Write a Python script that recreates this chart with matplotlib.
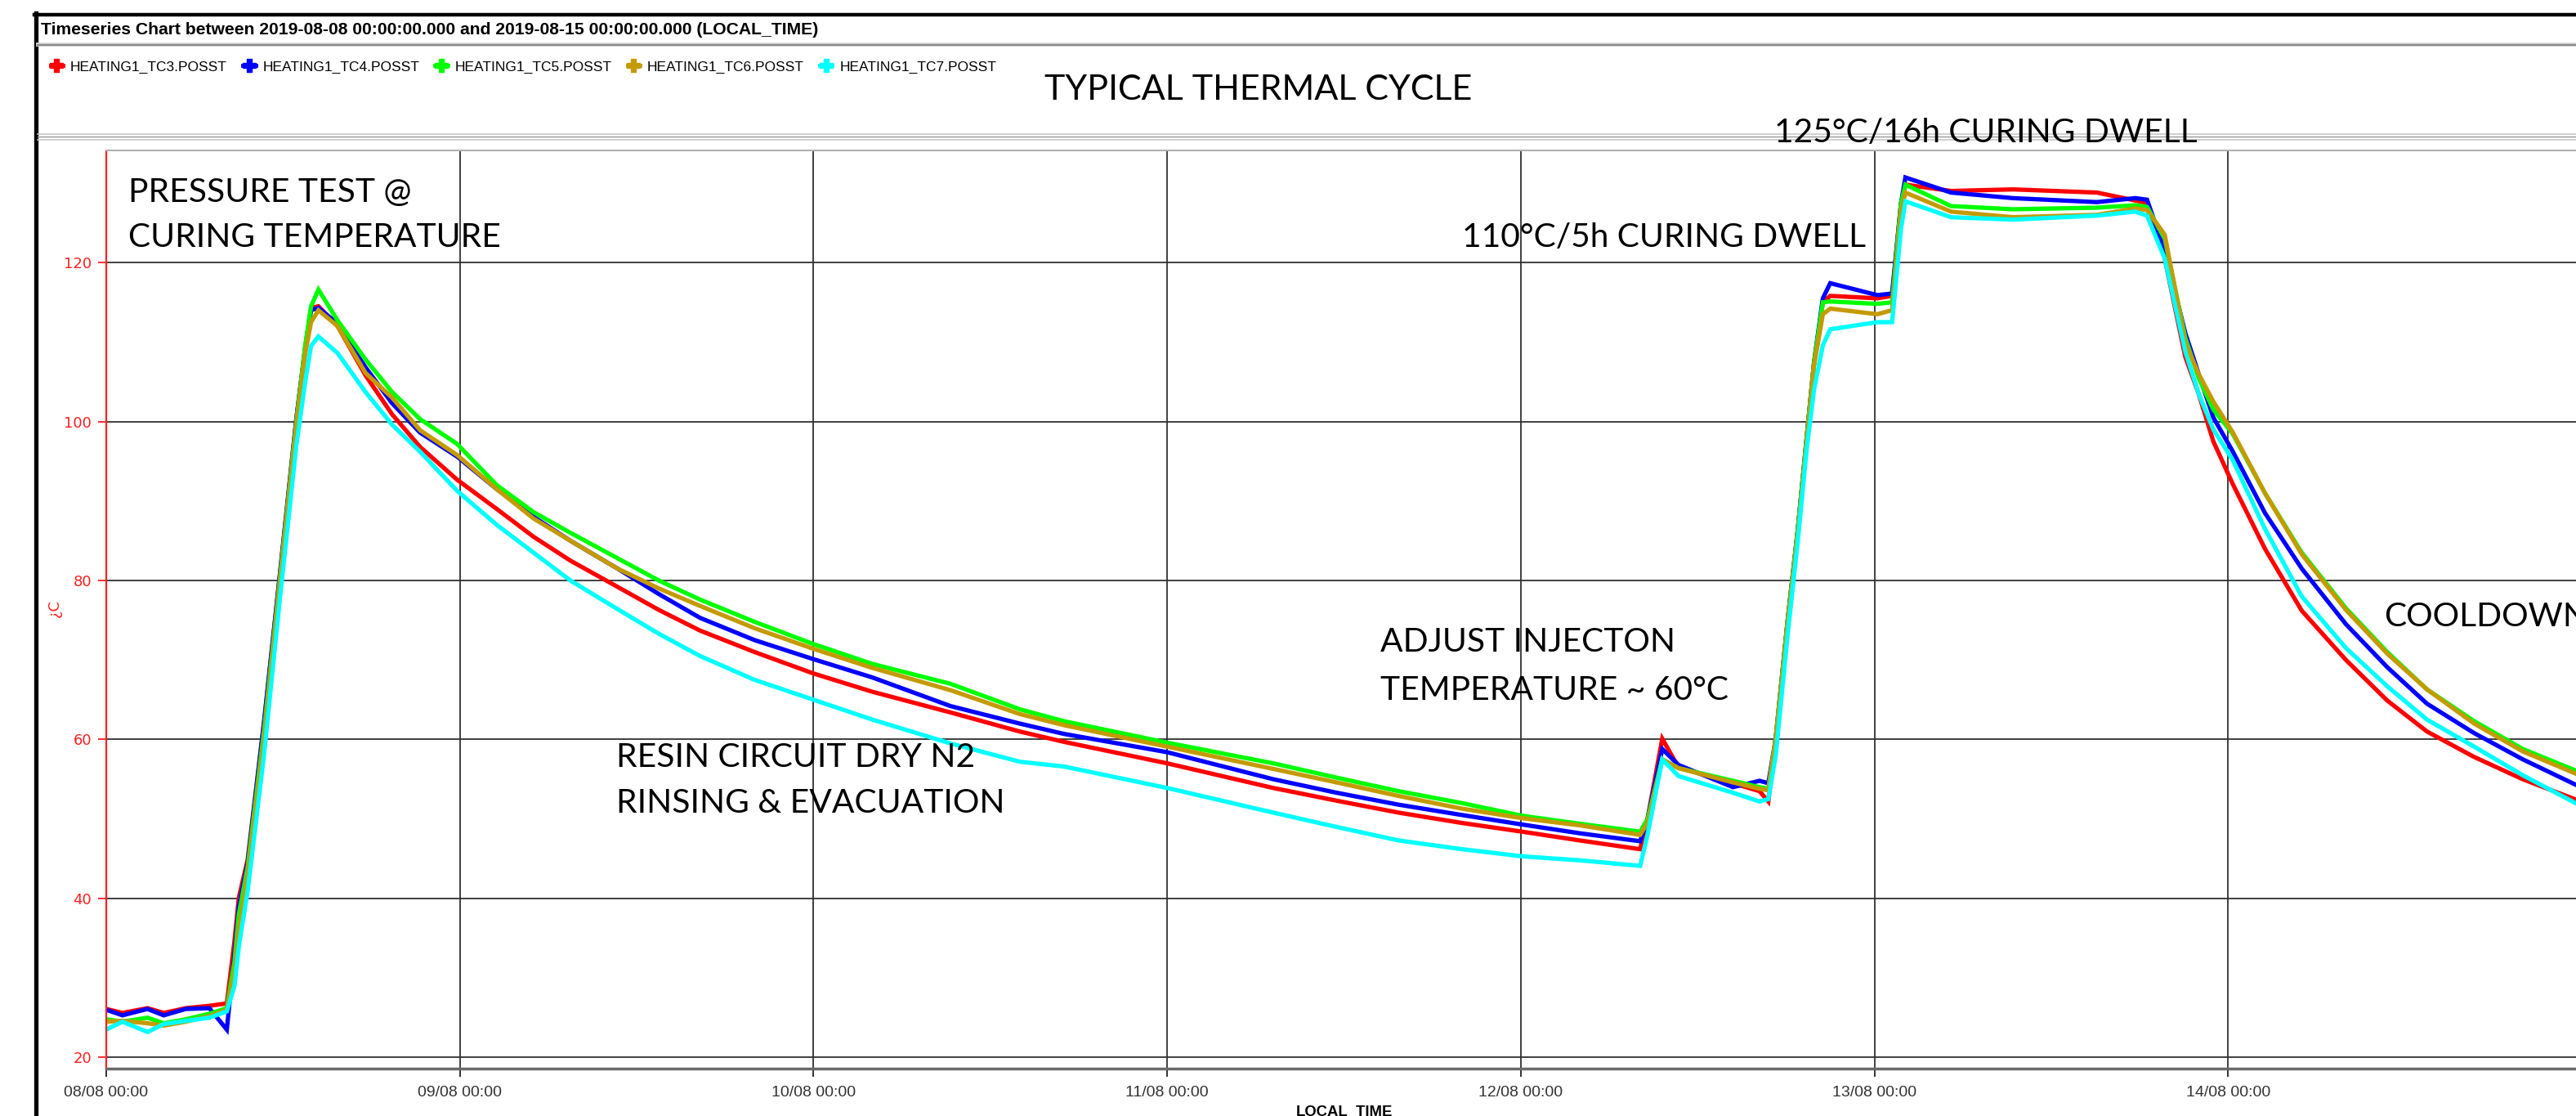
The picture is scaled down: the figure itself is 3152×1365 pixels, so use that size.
import numpy as np
import matplotlib
matplotlib.use('Agg')
import matplotlib.pyplot as plt
import matplotlib.dates as mdates
from matplotlib.lines import Line2D
from matplotlib import font_manager

# Figure size in pixels (dpi 100)
W, H = 3152, 1365

# Series names and colours
names = ['HEATING1_TC3.POSST', 'HEATING1_TC4.POSST', 'HEATING1_TC5.POSST',
         'HEATING1_TC6.POSST', 'HEATING1_TC7.POSST']
colors = ['#ff0000', '#0000ff', '#00ff00', '#c49a00', '#00ffff']

# Hours since 2019-08-08 00:00
hours = [0, 1.1, 2.8, 3.9, 5.4, 7.0, 8.2, 8.7, 9.0, 9.6, 10.7, 11.8, 12.9, 13.5, 13.9, 14.4,
         15.7, 17.6, 19.4, 21.3, 23.8, 26.5, 29, 31.5, 34.7, 37.5, 40.3, 44, 48, 52, 57.3,
         62, 65, 72, 79.2, 83.5, 87.7, 92, 96.1, 100, 104.1, 104.6, 105.6, 106.7, 110.4,
         112.2, 112.8, 113.3, 114.1, 114.8, 115.4, 115.9, 116.5, 117, 120.2, 121.2, 121.8,
         122.1, 125.2, 129.4, 135.1, 137.7, 138.5, 139.7, 141.1, 142, 143, 144.3, 146.5,
         149, 152, 154.8, 157.5, 160.7, 164, 168.5]

tc3 = [26.1, 25.6, 26.2, 25.6, 26.2, 26.5, 26.8, 34.6, 40.1, 44.9, 62, 81, 100.3, 109.2, 114.3, 114.5,
       112, 105.8, 100.9, 96.8, 92.7, 89, 85.5, 82.5, 79.2, 76.3, 73.7, 71, 68.3, 66, 63.4,
       61, 59.7, 57, 53.9, 52.3, 50.8, 49.5, 48.4, 47.3, 46.2, 50, 60.1, 56.5, 54.5,
       53.5, 52.2, 60.1, 74.8, 86.4, 97.9, 107.4, 115, 115.8, 115.5, 115.8, 127.4,
       129.8, 129, 129.2, 128.8, 127.8, 127.5, 120.5, 108.1, 103.5, 97.5, 92.2, 84,
       76.2, 70, 64.9, 61, 57.8, 55, 51.8]

tc4 = [26.0, 25.3, 26.1, 25.3, 26.1, 26.2, 23.5, 33, 39, 44.5, 62, 81, 100.3, 109.2, 114, 114.3,
       112.3, 106.8, 102.3, 98.6, 95.6, 91.5, 88, 85, 81.5, 78.3, 75.3, 72.5, 70.1, 67.8, 64.2,
       62, 60.7, 58.4, 55, 53.3, 51.8, 50.5, 49.3, 48.2, 47.2, 50, 58.8, 56.8, 54,
       54.8, 54.5, 60.1, 74.8, 86.4, 97.9, 107.4, 115.5, 117.4, 115.9, 116.1, 127.4,
       130.7, 128.8, 128.1, 127.6, 128.1, 127.9, 121.5, 111.1, 106, 100.5, 96.3, 88.5,
       81.5, 74.5, 69.1, 64.5, 60.8, 57.5, 53.5]

tc5 = [24.8, 24.5, 25, 24.3, 24.8, 25.5, 26.2, 32, 38, 44, 61, 80.5, 100, 109.5, 114.5, 116.6,
       112.7, 107.8, 103.7, 100.3, 97.2, 92, 88.6, 86, 82.8, 80, 77.6, 74.8, 72, 69.5, 67,
       63.8, 62.3, 59.6, 57, 55.2, 53.5, 52, 50.4, 49.4, 48.4, 50, 57.5, 56.4, 54.8,
       54, 53.8, 60.1, 74.8, 86.4, 97.9, 107.4, 115, 115.1, 114.8, 115, 127.4,
       129.8, 127.1, 126.7, 126.9, 127.2, 127, 123, 110.5, 105.5, 101.5, 98.5, 91,
       83.5, 76.5, 71, 66.3, 62.3, 58.8, 55.4]

tc6 = [24.5, 24.6, 24.3, 24.0, 24.5, 25.2, 26, 30.5, 36, 43, 60, 80, 99.5, 108.5, 112.5, 114,
       112, 106.1, 103, 98.9, 95.8, 91.5, 87.8, 85, 81.5, 79, 76.8, 74, 71.4, 69, 66.2,
       63.2, 61.8, 59.1, 56.3, 54.6, 52.9, 51.3, 50.1, 49.2, 48, 49.5, 57.5, 56.4, 54.6,
       53.8, 53.6, 60, 74.5, 86, 97.5, 107, 113.5, 114.2, 113.5, 114, 126.5,
       128.8, 126.4, 125.7, 126, 126.8, 126.6, 123.5, 109.9, 106, 102.5, 98.7, 91,
       83.3, 76.3, 70.8, 66.3, 62, 58.5, 55]

tc7 = [23.5, 24.5, 23.2, 24.2, 24.6, 25.0, 25.8, 29, 34, 41, 58, 78, 97, 105, 109.5, 110.7,
       108.6, 103.7, 99.6, 96.2, 91.3, 87, 83.5, 80, 76.4, 73.3, 70.5, 67.5, 65, 62.5, 59.5,
       57.2, 56.6, 53.9, 50.8, 49, 47.3, 46.2, 45.3, 44.8, 44.1, 48, 57.5, 55.4, 53.3,
       52.2, 52.5, 58, 73, 85, 96.5, 104, 109.6, 111.6, 112.5, 112.5, 124.2,
       127.7, 125.7, 125.4, 125.9, 126.4, 125.9, 120.5, 108.8, 103.5, 99, 95.2, 86.5,
       78, 71.5, 66.7, 62.5, 59.1, 55.5, 51.1]

series = [tc3, tc4, tc5, tc6, tc7]

start = np.datetime64('2019-08-08T00:00')
end = np.datetime64('2019-08-15T00:00')
tick_days = np.arange(start, end, np.timedelta64(1, 'D'))

title = 'Timeseries Chart between 2019-08-08 00:00:00.000 and 2019-08-15 00:00:00.000 (LOCAL_TIME)'

# annotation text, left x / centre y in pixels
notes = [
    ('PRESSURE TEST @', 157, 235),
    ('CURING TEMPERATURE', 157, 290),
    ('110°C/5h CURING DWELL', 1789, 290),
    ('125°C/16h CURING DWELL', 2171, 163),
    ('ADJUST INJECTON', 1689, 786),
    ('TEMPERATURE ~ 60°C', 1689, 844),
    ('RESIN CIRCUIT DRY N2', 754, 926),
    ('RINSING & EVACUATION', 754, 982),
    ('COOLDOWN', 2917, 754),
]

available = {f.name for f in font_manager.fontManager.ttflist}
if 'Liberation Sans Narrow' in available:
    narrow, k = 'Liberation Sans Narrow', 1.22
else:
    narrow, k = 'Liberation Sans', 1.0


def fx(px):
    return px / W


def fy(py):
    return 1 - py / H


fig = plt.figure(figsize=(W / 100, H / 100), dpi=100)
fig.patch.set_facecolor('white')

# main axes
ax = fig.add_axes([fx(130), fy(1307), (3159 - 130) / W, (1307 - 184) / H])
times = start + (np.array(hours) * 60).astype('timedelta64[m]')
for vals, c in zip(series, colors):
    ax.plot(times, vals, color=c, lw=3.8, solid_joinstyle='miter')

ax.set_xlim(start, end)
ax.set_ylim(18.6, 134.1)
ax.set_yticks([20, 40, 60, 80, 100, 120])
ax.set_xticks(tick_days)
ax.xaxis.set_major_formatter(mdates.DateFormatter('%d/%m %H:%M'))
ax.grid(True, color='#303030', lw=1.3)
ax.set_axisbelow(True)

ax.spines['right'].set_visible(False)
ax.spines['left'].set_color('#ff2020')
ax.spines['left'].set_linewidth(1.6)
ax.spines['bottom'].set_color('#6a6a6a')
ax.spines['bottom'].set_linewidth(2.5)
ax.spines['top'].set_color('#b0b0b0')
ax.spines['top'].set_linewidth(1.5)

ax.tick_params(axis='y', colors='#ff2020', length=7, width=1.3, labelsize=13, pad=6)
ax.tick_params(axis='x', color='#202020', labelcolor='#333333', length=7, width=1.3,
               labelsize=14 * k, pad=8)
for t in ax.get_xticklabels():
    t.set_fontfamily(narrow)

# frame and separator bands
fig.add_artist(Line2D([fx(44), fx(44)], [0, fy(16)], color='black', lw=3.8))
fig.add_artist(Line2D([fx(42), 1], [fy(18), fy(18)], color='black', lw=3.2))
for y, c, lw in [(54, '#d8d8d8', 3.5), (55, '#8a8a8a', 1.6),
                 (164, '#c8c8c8', 1.2), (167, '#9a9a9a', 1.0), (171, '#c8c8c8', 1.2)]:
    fig.add_artist(Line2D([fx(46), 1], [fy(y), fy(y)], color=c, lw=lw))

fig.text(fx(50), fy(36), title, fontsize=15.2 * k, fontweight='bold', family=narrow,
         va='center', ha='left')

handles = [Line2D([], [], color=c, lw=3.5, marker='P', markersize=11) for c in colors]
fig.legend(handles, names, loc='center left', bbox_to_anchor=(fx(46), fy(82)), ncol=5,
           frameon=False, handlelength=0.9, handletextpad=0.5, columnspacing=1.1,
           prop={'family': narrow, 'size': 12.5 * k})

fig.text(fx(1540), fy(110), 'TYPICAL THERMAL CYCLE', fontsize=31, family='Lato',
         ha='center', va='center')
for txt, x, y in notes:
    fig.text(fx(x), fy(y), txt, fontsize=29.3, family='Lato', ha='left', va='center')

fig.text(fx(67), fy(744), '¿C', color='#ff2020', fontsize=13, rotation=90,
         ha='center', va='center')
fig.text(fx(1645), fy(1351), 'LOCAL_TIME', fontsize=13.3 * k, fontweight='bold',
         family=narrow, ha='center', va='top')

fig.savefig('out.png', dpi=100)
